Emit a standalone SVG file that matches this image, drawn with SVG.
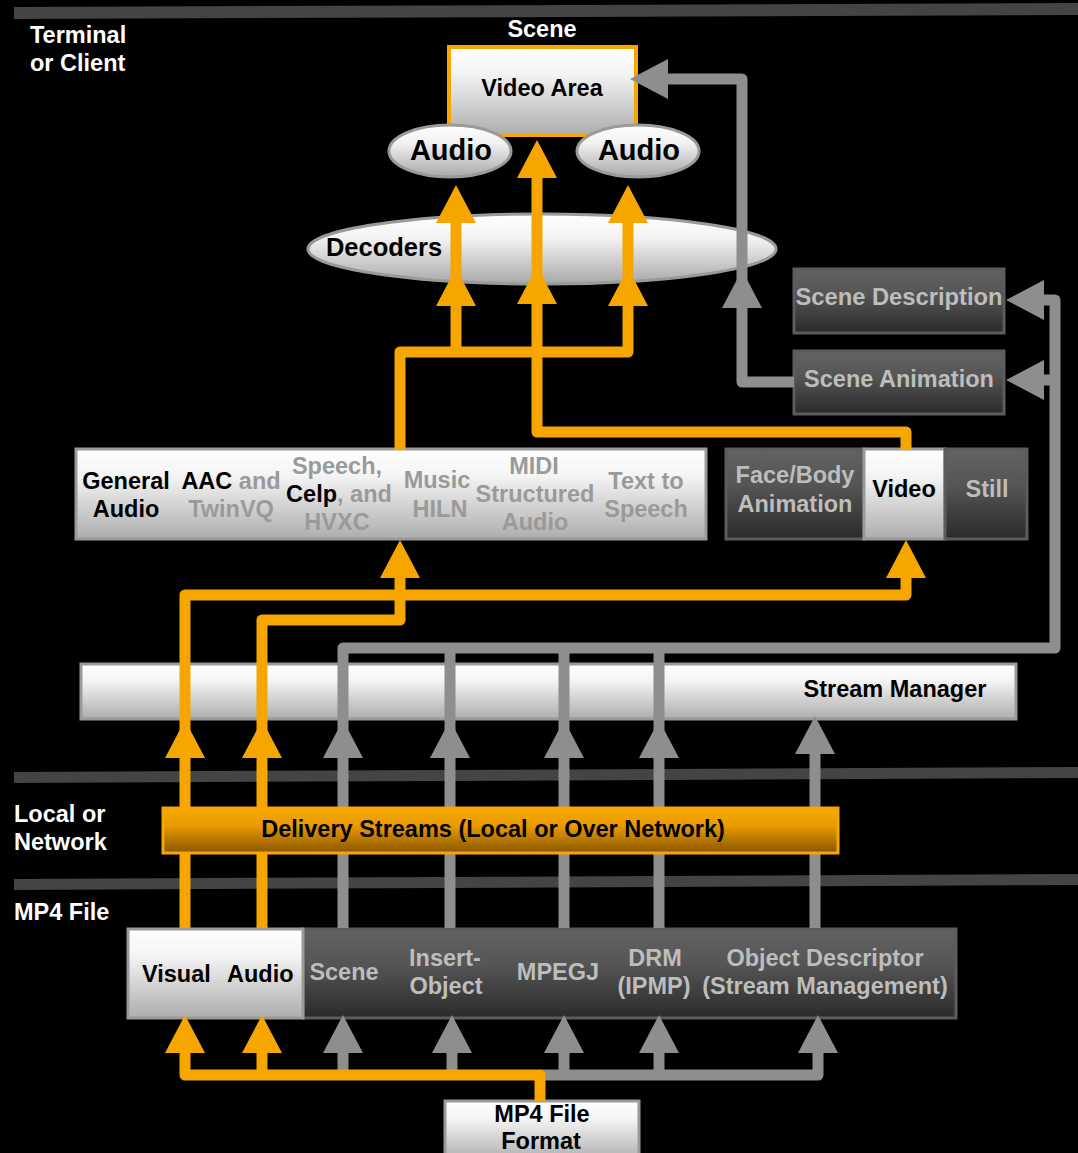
<svg xmlns="http://www.w3.org/2000/svg" width="1078" height="1153" viewBox="0 0 1078 1153">
<style>
text{font-family:"Liberation Sans",Arial,Helvetica,sans-serif;font-weight:bold;font-size:23.5px;text-anchor:middle}
.w{fill:#fff;text-anchor:start}
.k{fill:#000}
.g{fill:#9a9a9a}
.lg{fill:#bdbdbd}
.lt{fill:url(#lightG);stroke:#9a9a9a;stroke-width:3}
.dk{fill:url(#darkG);stroke:#5c5c5c;stroke-width:3}
.el{fill:url(#ellG);stroke:#9a9a9a;stroke-width:3}
.ow{fill:none;stroke:#F7A600;stroke-width:11;stroke-linejoin:round}
.gw{fill:none;stroke:#8e8e8e;stroke-width:11;stroke-linejoin:round}
.oh{fill:#F7A600}
.gh{fill:#8e8e8e}
.band{fill:#444}
</style>
<defs>
<linearGradient id="lightG" x1="0" y1="0" x2="0" y2="1">
<stop offset="0" stop-color="#ffffff"/><stop offset="0.3" stop-color="#f4f4f4"/><stop offset="1" stop-color="#adadad"/>
</linearGradient>
<linearGradient id="ellG" x1="0" y1="0" x2="0" y2="1">
<stop offset="0" stop-color="#ffffff"/><stop offset="0.35" stop-color="#f2f2f2"/><stop offset="1" stop-color="#a8a8a8"/>
</linearGradient>
<linearGradient id="darkG" x1="0" y1="0" x2="0" y2="1">
<stop offset="0" stop-color="#626262"/><stop offset="0.4" stop-color="#555"/><stop offset="1" stop-color="#2a2a2a"/>
</linearGradient>
<linearGradient id="orG" x1="0" y1="0" x2="0" y2="1">
<stop offset="0" stop-color="#F8AA00"/><stop offset="0.4" stop-color="#E89A00"/><stop offset="1" stop-color="#885600"/>
</linearGradient>
<path id="up" d="M0 0 L20 38 L-20 38 Z"/>
<path id="left" d="M0 0 L38 -20 L38 20 Z"/>
</defs>
<rect width="1078" height="1153" fill="#000"/>

<g id="bands">
<polygon class="band" points="14,7 1078,3 1078,15 14,19"/>
<polygon class="band" points="14,772 1078,767 1078,778 14,783"/>
<polygon class="band" points="14,879 1078,874 1078,885 14,890"/>
<text class="w" x="30" y="43">Terminal</text>
<text class="w" x="30" y="71">or Client</text>
<text class="w" x="14" y="822">Local or</text>
<text class="w" x="14" y="850">Network</text>
<text class="w" x="14" y="920">MP4 File</text>
</g>

<g id="scene">
<text x="542" y="37" fill="#fff">Scene</text>
<rect x="449" y="47" width="187" height="88" fill="url(#lightG)" stroke="#F7A600" stroke-width="4"/>
<text class="k" x="542" y="96">Video Area</text>
</g>
<g id="audio-left">
<ellipse class="el" cx="450" cy="151" rx="61" ry="26"/>
<text class="k" x="451" y="160" style="font-size:29px">Audio</text>
</g>
<g id="audio-right">
<ellipse class="el" cx="638" cy="151" rx="61" ry="26"/>
<text class="k" x="639" y="160" style="font-size:29px">Audio</text>
</g>
<g id="decoders">
<ellipse class="el" cx="542" cy="249" rx="234" ry="35"/>
<text class="k" x="384" y="256" style="font-size:25.5px">Decoders</text>
</g>
<g id="scene-description">
<rect class="dk" x="794" y="269" width="210" height="64"/>
<text class="lg" x="899" y="305" textLength="207" lengthAdjust="spacingAndGlyphs">Scene Description</text>
</g>
<g id="scene-animation">
<rect class="dk" x="794" y="351" width="210" height="63"/>
<text class="lg" x="899" y="387">Scene Animation</text>
</g>

<g id="audio-codecs">
<rect class="lt" x="76" y="449" width="630" height="90"/>
<text class="k" x="126" y="489">General</text>
<text class="k" x="126" y="517">Audio</text>
<text x="231" y="489"><tspan class="k">AAC</tspan><tspan class="g"> and</tspan></text>
<text class="g" x="231" y="517">TwinVQ</text>
<text class="g" x="337" y="474">Speech,</text>
<text x="339" y="502"><tspan class="k">Celp</tspan><tspan class="g">, and</tspan></text>
<text class="g" x="337" y="530">HVXC</text>
<text class="g" x="437" y="488">Music</text>
<text class="g" x="440" y="517">HILN</text>
<text class="g" x="534" y="474">MIDI</text>
<text class="g" x="535" y="502">Structured</text>
<text class="g" x="535" y="530">Audio</text>
<text class="g" x="646" y="489">Text to</text>
<text class="g" x="646" y="517">Speech</text>
</g>

<g id="visual-codecs">
<rect class="dk" x="726" y="449" width="138" height="90"/>
<text class="lg" x="795" y="483">Face/Body</text>
<text class="lg" x="795" y="512">Animation</text>
<rect class="lt" x="864" y="449" width="81" height="90"/>
<text class="k" x="904" y="497">Video</text>
<rect class="dk" x="945" y="449" width="82" height="90"/>
<text class="lg" x="987" y="497">Still</text>
</g>

<g id="stream-manager">
<rect class="lt" x="81" y="664" width="935" height="55"/>
<text class="k" x="895" y="697">Stream Manager</text>
</g>

<g id="mp4-box">
<rect class="dk" x="303" y="929" width="653" height="89"/>
<rect class="lt" x="128" y="929" width="175" height="89"/>
<text class="k" x="142" y="982" style="text-anchor:start">Visual</text>
<text class="k" x="227" y="982" style="text-anchor:start">Audio</text>
<text class="lg" x="344" y="980">Scene</text>
<text class="lg" x="445" y="966">Insert-</text>
<text class="lg" x="446" y="994">Object</text>
<text class="lg" x="558" y="980">MPEGJ</text>
<text class="lg" x="655" y="966">DRM</text>
<text class="lg" x="654" y="994">(IPMP)</text>
<text class="lg" x="825" y="966">Object Descriptor</text>
<text class="lg" x="825" y="994">(Stream Management)</text>
</g>

<g id="mp4-file-format">
<rect class="lt" x="445" y="1101" width="194" height="60"/>
<text class="k" x="542" y="1122">MP4 File</text>
<text class="k" x="541" y="1149">Format</text>
</g>

<g id="connectors">
<path class="gw" d="M794,382 H742 V79 H665"/>
<use href="#left" class="gh" x="630" y="79"/>
<use href="#up" class="gh" x="742" y="270"/>
<path class="gw" d="M343,757 V648 H1055 V300 H1040 M1055,380 H1040"/>
<use href="#left" class="gh" x="1006" y="300"/>
<use href="#left" class="gh" x="1006" y="380"/>
<path class="gw" d="M343,757 V928 M450,648 V928 M564,648 V928 M659,648 V928 M815,750 V928"/>
<use href="#up" class="gh" x="343" y="720"/>
<use href="#up" class="gh" x="450" y="720"/>
<use href="#up" class="gh" x="564" y="720"/>
<use href="#up" class="gh" x="659" y="720"/>
<use href="#up" class="gh" x="815" y="716"/>
<path class="gw" d="M540,1075 H818 V1050 M564,1075 V1050 M659,1075 V1050 M343,1075 V1050 M452,1075 V1050"/>
<use href="#up" class="gh" x="343" y="1015"/>
<use href="#up" class="gh" x="452" y="1015"/>
<use href="#up" class="gh" x="564" y="1015"/>
<use href="#up" class="gh" x="659" y="1015"/>
<use href="#up" class="gh" x="818" y="1015"/>
<path class="ow" d="M400,450 V352 H628 V215 M456,352 V215"/>
<use href="#up" class="oh" x="456" y="185"/>
<use href="#up" class="oh" x="456" y="268"/>
<use href="#up" class="oh" x="628" y="185"/>
<use href="#up" class="oh" x="628" y="268"/>
<path class="ow" d="M906,450 V432 H537 V170"/>
<use href="#up" class="oh" x="537" y="140"/>
<use href="#up" class="oh" x="537" y="266"/>
<path class="ow" d="M185,928 V595 H906 V570"/>
<use href="#up" class="oh" x="906" y="540"/>
<use href="#up" class="oh" x="185" y="720"/>
<path class="ow" d="M262,928 V620 H400 V570"/>
<use href="#up" class="oh" x="400" y="540"/>
<use href="#up" class="oh" x="262" y="720"/>
<path class="ow" d="M540,1101 V1075 H185 V1050 M262,1075 V1050"/>
<use href="#up" class="oh" x="185" y="1015"/>
<use href="#up" class="oh" x="262" y="1015"/>
</g>

<g id="delivery-streams">
<rect x="163" y="808" width="675" height="45" fill="url(#orG)" stroke="#F7A600" stroke-width="3"/>
<text class="k" x="493" y="837">Delivery Streams (Local or Over Network)</text>
</g>
</svg>
